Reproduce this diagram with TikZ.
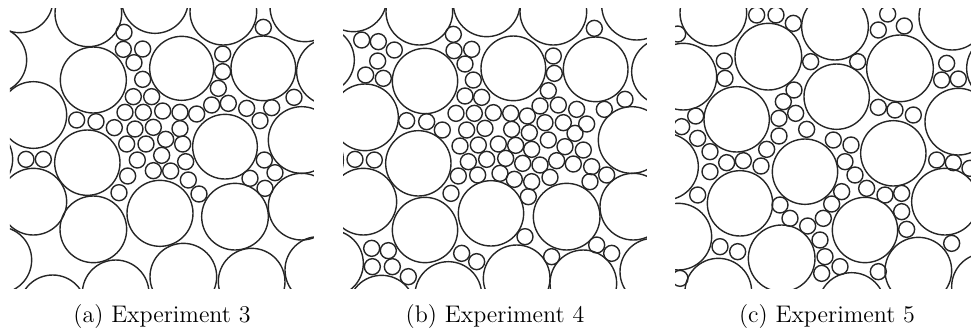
\documentclass[tikz,border=0pt]{standalone}
\usepackage{tikz}
\tikzset{
  bigdisk/.style={draw=black!85,line width=0.7pt},
  smalldisk/.style={draw=black!85,line width=0.7pt},
  subcap/.style={font=\large,anchor=base,inner sep=0pt}
}

\begin{document}
\begin{tikzpicture}[x=0.5pt,y=-0.5pt]
  \useasboundingbox (0,0) rectangle (971,334);

  % (a) experiment 3
  \begin{scope}[shift={(0,0)},scale=1/3]
    \clip (30,24) rectangle (942,864);
    \foreach \x/\y/\r in {-20/180/100,59/-2/100,265/40/100,465/0/100,670/35/100,915/20/105,
        280/240/99,545/205/96,790/205/97,990/215/100,
        100/345/100,-62/478/100,262/488/98,675/440/97,905/420/100,
        100/605/100,280/688/100,480/640/99,705/650/100,905/620/100,
        -5/780/100,158/925/100,347/880/100,550/830/100,755/845/100,955/810/100}
      \draw[bigdisk] (\x,\y) circle[radius=\r];
    \foreach \x/\y in {372/97,790/82,370/148,428/147,402/188,428/238,668/162,668/215,655/265,
        400/290,455/290,375/337,430/337,488/333,540/337,590/342,635/315,685/310,740/325,
        815/323,882/292,230/360,288/365,343/383,405/387,460/382,540/386,780/362,
        380/432,438/432,497/418,548/432,78/478,130/478,412/480,485/466,557/485,793/480,
        383/528,460/512,512/513,825/518,750/535,357/578,565/540,597/582,795/565}
      \draw[smalldisk] (\x,\y) circle[radius=24];
  \end{scope}

  % (b) experiment 4
  \begin{scope}[shift={(335,0)},scale=1/3]
    \clip (24,24) rectangle (936,864);
    \foreach \x/\y/\r in {55/-5/100,253/35/100,455/10/100,655/35/100,905/15/105,
        -42/180/100,270/243/98,535/205/97,782/208/97,990/215/100,
        90/352/100,-75/480/100,250/490/98,890/420/100,
        85/605/100,270/690/98,468/640/98,695/650/100,895/620/100,
        -15/790/100,140/926/100,340/885/100,545/835/100,745/850/100,955/815/100}
      \draw[bigdisk] (\x,\y) circle[radius=\r];
    \foreach \x/\y in {80/120,130/125,178/150,128/183,92/225,145/235,60/478,118/480,
        355/103,778/85,357/152,410/148,390/192,415/240,655/168,658/220,640/272,
        390/288,440/292,215/362,275/365,
        363/340,418/340,475/338,527/340,577/348,615/318,670/315,725/328,808/328,870/298,
        322/390,395/390,450/385,530/388,583/398,630/368,685/368,755/372,720/400,
        375/438,430/435,490/432,542/436,590/448,640/420,690/440,745/450,
        400/485,455/478,512/475,563/490,615/495,665/482,715/492,770/500,815/525,
        370/528,428/525,495/520,538/538,590/545,645/532,765/545,348/580,580/590,
        110/745,160/752,112/800,172/800,220/830,380/760,425/785,570/710,650/770,785/735,830/760}
      \draw[smalldisk] (\x,\y) circle[radius=24];
  \end{scope}

  % (c) experiment 5
  \begin{scope}[shift={(665,0)},scale=1/3]
    \clip (30,24) rectangle (918,864);
    \foreach \x/\y/\r in {145/38/100,310/170/100,510/80/100,705/205/100,862/50/100,1005/205/100,
        55/230/100,515/290/98,215/358/98,880/365/100,
        0/500/100,685/460/98,420/515/98,225/610/98,840/605/100,
        40/710/100,600/690/98,350/775/100,760/812/100,
        160/875/100,560/918/100,960/860/100}
      \draw[bigdisk] (\x,\y) circle[radius=\r];
    \foreach \x/\y in {38/102,275/45,333/45,385/70,640/90,668/42,718/78,
        178/183,180/235,437/185,578/185,845/190,830/240,880/237,
        387/270,355/305,392/340,342/355,425/388,342/408,640/322,690/330,745/345,
        92/348,50/380,98/415,505/420,558/435,305/448,
        135/455,185/488,235/482,288/498,540/485,570/525,135/515,815/480,865/488,915/505,
        530/575,605/565,660/585,710/580,98/585,345/615,375/655,428/678,475/655,500/612,
        710/635,725/688,165/740,218/755,860/730,
        465/720,480/770,470/820,525/800,640/815,45/835}
      \draw[smalldisk] (\x,\y) circle[radius=24];
  \end{scope}

  \node[subcap] (capa) at (162,322) {(a) Experiment 3};
  \node[subcap] (capb) at (495,322) {(b) Experiment 4};
  \node[subcap] (capc) at (827,322) {(c) Experiment 5};
\end{tikzpicture}
\end{document}
